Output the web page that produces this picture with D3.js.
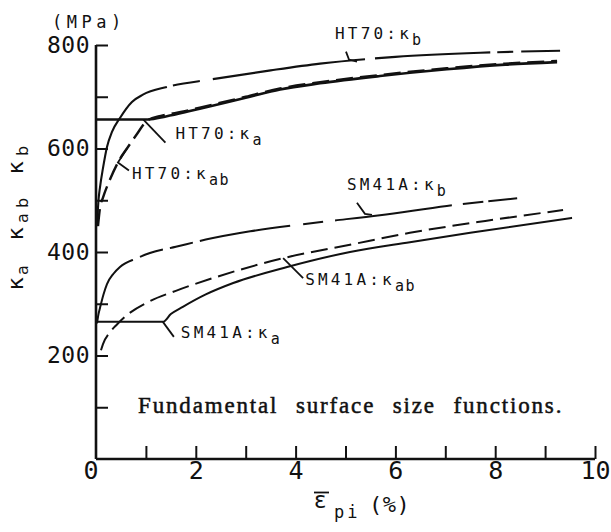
<!DOCTYPE html>
<html>
<head>
<meta charset="utf-8">
<script src="https://cdn.jsdelivr.net/npm/d3@7"></script>
<style>
  html, body { margin: 0; padding: 0; background: #fff; }
  svg { display: block; }
  .mono { font-family: "DejaVu Sans Mono", monospace; fill: #111; }
</style>
</head>
<body>
<svg id="chart" width="611" height="532"></svg>
<script>
// Plastic strain (%) vs. surface size functions (MPa) for two steels.
const xTicks = [0, 1, 2, 3, 4, 5, 6, 7, 8, 9, 10];
const xTickLabels = ["0", "", "2", "", "4", "", "6", "", "8", "", "10"];
const yTicks = [100, 200, 300, 400, 500, 600, 700, 800];
const yTickLabels = ["", "200", "", "400", "", "600", "", "800"];

// HT70
const ht70Kb = [[0.02, 450], [0.05, 500], [0.08, 525], [0.14, 562], [0.22, 603], [0.32, 632],
  [0.48, 659], [0.72, 690], [0.94, 704], [1.42, 719], [2.34, 734], [3.5, 751], [4.49, 764],
  [6.0, 777], [7.7, 785], [9.3, 789]];
const ht70Ka = [[0, 656], [1.05, 656], [1.4, 662], [1.78, 670], [2.08, 677], [3.0, 698],
  [3.69, 714], [4.49, 726], [5.69, 740], [7.03, 753], [8.2, 762], [9.24, 767]];
const ht70Kab = [[0.04, 450], [0.08, 485], [0.14, 505], [0.28, 540], [0.48, 580], [0.62, 600],
  [0.8, 625], [1.04, 655], [1.3, 663], [1.78, 672], [2.08, 679], [3.0, 700], [3.69, 716],
  [4.49, 728], [5.69, 742], [7.03, 755], [8.2, 764], [9.24, 769]];

// SM41A
const sm41Kb = [[0.02, 262], [0.05, 280], [0.08, 292], [0.15, 318], [0.22, 338], [0.35, 358],
  [0.48, 371], [0.82, 388], [1.08, 398], [1.6, 410], [2.2, 424], [3.09, 440], [4.43, 457],
  [5.69, 471], [7.03, 489], [8.44, 504]];
const sm41Ka = [[0, 265], [1.34, 265], [1.5, 280], [1.74, 294], [2.2, 318], [2.75, 340],
  [3.83, 371], [5.09, 400], [6.29, 419], [7.5, 437], [9.54, 466]];
const sm41Kab = [[0.1, 210], [0.14, 222], [0.28, 245], [0.42, 260], [0.62, 278], [1.08, 305],
  [1.6, 325], [2.42, 352], [3.75, 388], [5.09, 414], [6.29, 437], [7.8, 460], [9.36, 481]];

// Curve labels: steel grade and subscript of κ
const labelSteel = ["HT70", "HT70", "HT70", "SM41A", "SM41A", "SM41A"];
const labelSub = ["b", "a", "ab", "b", "ab", "a"];

const caption = "Fundamental surface size functions.";

const svg = d3.select("#chart");
const x = d3.scaleLinear().domain([0, 10]).range([96, 595]);
const y = d3.scaleLinear().domain([0, 800]).range([459, 45]);

const line = d3.line().x(d => x(d[0])).y(d => y(d[1])).curve(d3.curveMonotoneX);

// κb curves are drawn solid with occasional breaks (x-ranges in %)
function breakDash(node, gaps) {
  const total = node.getTotalLength();
  const lenAt = px => {
    let lo = 0, hi = total;
    for (let i = 0; i < 40; i++) {
      const mid = (lo + hi) / 2;
      if (node.getPointAtLength(mid).x < px) lo = mid; else hi = mid;
    }
    return (lo + hi) / 2;
  };
  const arr = [];
  let prev = 0;
  gaps.forEach(([a, b]) => {
    const la = lenAt(x(a)), lb = lenAt(x(b));
    arr.push(la - prev, lb - la);
    prev = lb;
  });
  arr.push(total - prev + 5, total + 5);
  return arr.map(v => v.toFixed(2)).join(",");
}

const series = [
  { data: ht70Kb, kind: "b", width: 2.1, gaps: [[1.42, 1.54], [2.08, 2.34], [5.39, 5.59], [7.9, 8.04], [8.36, 8.52]] },
  { data: ht70Ka, kind: "a", width: 2.6 },
  { data: ht70Kab, kind: "ab", width: 2.4 },
  { data: sm41Kb, kind: "b", width: 2.0, gaps: [[0.74, 0.88], [1.34, 1.48], [1.94, 2.08], [3.89, 4.15], [4.55, 4.79], [7.13, 7.35], [7.76, 7.86]] },
  { data: sm41Ka, kind: "a", width: 2.0 },
  { data: sm41Kab, kind: "ab", width: 2.0 }
];

const curves = svg.append("g").attr("fill", "none").attr("stroke", "#111").attr("stroke-linecap", "butt");
series.forEach(s => {
  const p = curves.append("path")
    .attr("d", line(s.data))
    .attr("stroke-width", s.width);
  if (s.kind === "ab") p.attr("stroke-dasharray", "17,7");
  if (s.kind === "b") p.attr("stroke-dasharray", breakDash(p.node(), s.gaps));
});

// Axes with inward ticks
const yAxis = d3.axisLeft(y).tickValues(yTicks).tickSizeInner(-12).tickSizeOuter(0)
  .tickPadding(6).tickFormat((d, i) => yTickLabels[i]);
const gy = svg.append("g").attr("transform", `translate(${x(0)},0)`).call(yAxis);
gy.select(".domain").attr("stroke", "#111").attr("stroke-width", 2.6)
  .attr("d", `M0,${y(0)}V${y(800)}`);
gy.selectAll(".tick line").attr("stroke", "#111").attr("stroke-width", 2);
gy.selectAll(".tick text").attr("class", "mono").attr("font-size", 23)
  .attr("letter-spacing", 0.5).attr("fill", "#111").attr("font-family", "DejaVu Sans Mono");

const xAxis = d3.axisBottom(x).tickValues(xTicks.slice(1)).tickSizeInner(-13).tickSizeOuter(0)
  .tickPadding(4).tickFormat(d => xTickLabels[xTicks.indexOf(d)]);
const gx = svg.append("g").attr("transform", `translate(0,${y(0)})`).call(xAxis);
gx.select(".domain").attr("stroke", "#111").attr("stroke-width", 2.6)
  .attr("d", `M${x(0)},0H${x(10)}`);
gx.selectAll(".tick line").attr("stroke", "#111").attr("stroke-width", 2);
gx.selectAll(".tick text").attr("font-size", 25).attr("fill", "#111")
  .attr("font-family", "DejaVu Sans Mono").attr("dy", "0.62em");
// origin label
gx.append("text").attr("x", x(0) - 5).attr("y", 4).attr("dy", "0.62em")
  .attr("text-anchor", "middle").attr("font-size", 25).attr("fill", "#111")
  .attr("font-family", "DejaVu Sans Mono").text(xTickLabels[0]);

// Unit
svg.append("text").attr("class", "mono").attr("x", 52).attr("y", 28)
  .attr("font-size", 17).attr("letter-spacing", 4.5).text("(MPa)");

// Y title: κa κab κb, rotated
const yt = svg.append("g").attr("transform", "translate(23,300) rotate(-90)")
  .attr("font-family", "DejaVu Sans").attr("fill", "#111");
const ytGlyphs = [
  { t: "κ", x: 10, sub: false }, { t: "a", x: 25, sub: true },
  { t: "κ", x: 60, sub: false }, { t: "a", x: 77, sub: true }, { t: "b", x: 92, sub: true },
  { t: "κ", x: 126, sub: false }, { t: "b", x: 144, sub: true }
];
ytGlyphs.forEach(g => {
  yt.append("text").attr("x", g.x).attr("y", g.sub ? 5 : 0)
    .attr("font-size", g.sub ? 16 : 22).text(g.t);
});

// X title: ε̄pi (%)
const xt = svg.append("g").attr("fill", "#111");
xt.append("text").attr("x", 314).attr("y", 508).attr("font-family", "DejaVu Sans")
  .attr("font-size", 23).text("ε");
xt.append("line").attr("x1", 314).attr("x2", 329).attr("y1", 492.5).attr("y2", 492.5)
  .attr("stroke", "#111").attr("stroke-width", 1.8);
xt.append("text").attr("class", "mono").attr("x", 334).attr("y", 518)
  .attr("font-size", 17).attr("letter-spacing", 3).text("pi");
xt.append("text").attr("class", "mono").attr("x", 369).attr("y", 512)
  .attr("font-size", 22).attr("letter-spacing", 0.5).text("(%)");

// Curve labels with leader lines; anchors sit on the curves (data units)
const anns = [
  { ax: 5.13, ay: 768, leader: [[-6, -10], [-3, -2], [5, 0]], tx: -17, ty: -23 },
  { ax: 0.95, ay: 656, leader: [[0, 0], [22, 23]], tx: 32, ty: 19 },
  { ax: 0.62, ay: 600, leader: [[0, 0], [-9, 14], [2, 22]], tx: 5, ty: 30 },
  { ax: 5.45, ay: 468, leader: [[-11, -14], [-3, -3], [4, -2]], tx: -21, ty: -27 },
  { ax: 3.75, ay: 388, leader: [[0, 0], [20, 20]], tx: 22, ty: 27 },
  { ax: 1.34, ay: 265, leader: [[0, 0], [11, 15]], tx: 18, ty: 16 }
];
const ann = svg.append("g");
anns.forEach((a, i) => {
  const px = x(a.ax), py = y(a.ay);
  ann.append("path")
    .attr("d", d3.line()(a.leader.map(p => [px + p[0], py + p[1]])))
    .attr("fill", "none").attr("stroke", "#111").attr("stroke-width", 1.8);
  const t = ann.append("text").attr("class", "mono")
    .attr("x", px + a.tx).attr("y", py + a.ty)
    .attr("font-size", 16).attr("letter-spacing", 3.2);
  t.append("tspan").text(labelSteel[i] + ":κ");
  t.append("tspan").attr("dy", 6).attr("font-size", 15).attr("letter-spacing", 1.5).text(labelSub[i]);
});

// Caption
svg.append("text").attr("x", 138).attr("y", 413)
  .attr("font-family", "Liberation Serif").attr("font-size", 23)
  .attr("fill", "#111").attr("stroke", "#111").attr("stroke-width", 0.5)
  .attr("letter-spacing", 0.6).attr("word-spacing", 10)
  .attr("textLength", 424).attr("lengthAdjust", "spacing")
  .text(caption);
</script>
</body>
</html>
